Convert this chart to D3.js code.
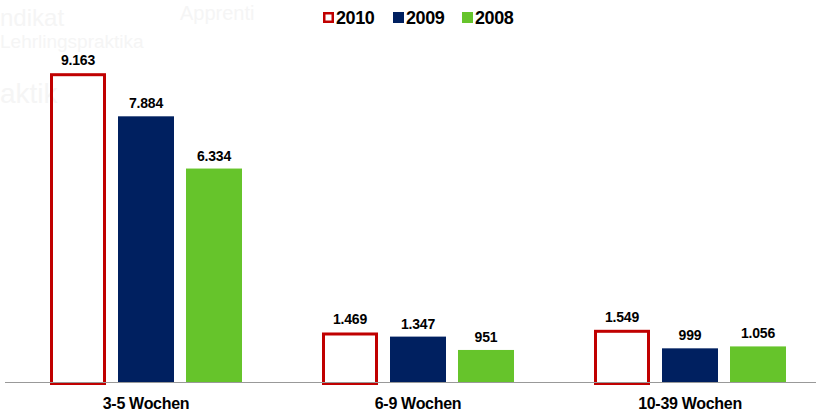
<!DOCTYPE html>
<html><head><meta charset="utf-8">
<script src="https://cdn.jsdelivr.net/npm/d3@7"></script>
<style>
html,body{margin:0;padding:0;background:#fff;}
svg{display:block;font-family:"Liberation Sans",Arial,sans-serif;}
</style></head>
<body><svg id="chart" width="816" height="416"></svg>
<script>
const categories = ["3-5 Wochen", "6-9 Wochen", "10-39 Wochen"];
const years = ["2010", "2009", "2008"];
const values2010 = [9163, 1469, 1549];
const values2009 = [7884, 1347, 999];
const values2008 = [6334, 951, 1056];
const valueLabels2010 = ["9.163", "1.469", "1.549"];
const valueLabels2009 = ["7.884", "1.347", "999"];
const valueLabels2008 = ["6.334", "951", "1.056"];
const watermark = [
  {t:"ndikat", x:0, y:26, s:24},
  {t:"Lehrlingspraktika", x:0, y:48, s:19},
  {t:"aktik", x:0, y:103, s:28},
  {t:"Apprenti", x:180, y:20, s:20}
];

const colors = {"2010":"#C00000","2009":"#002060","2008":"#66C42B"};
const series = {
  "2010": {v: values2010, l: valueLabels2010},
  "2009": {v: values2009, l: valueLabels2009},
  "2008": {v: values2008, l: valueLabels2008}
};

const svg = d3.select("#chart");

// faint background watermark
svg.append("g").selectAll("text").data(watermark).join("text")
  .attr("x", d=>d.x).attr("y", d=>d.y)
  .attr("font-size", d=>d.s)
  .attr("fill","#f5f5f5").text(d=>d.t);

const baseline = 382;
const x0 = d3.scaleBand().domain(categories).range([10, 826]);
const x1 = d3.scaleBand().domain(years).range([x0.bandwidth()/2 - 96, x0.bandwidth()/2 + 96]).paddingInner(0.1765);
const y = d3.scaleLinear().domain([0, 10000]).range([baseline, 45]);

// axis
const xAxis = d3.axisBottom(x0).tickSize(0).tickPadding(0);
const ax = svg.append("g").attr("transform", `translate(0,${baseline})`).call(xAxis);
ax.select(".domain").remove();
ax.selectAll("text")
  .attr("dy", 0).attr("y", 27)
  .attr("font-size", 16).attr("font-weight", "bold")
  .attr("font-family", '"Liberation Sans",Arial,sans-serif')
  .attr("letter-spacing", "-0.3px")
  .attr("fill", "#000");

const groups = svg.append("g").selectAll("g").data(categories).join("g")
  .attr("transform", d => `translate(${x0(d)},0)`);

years.forEach(yr => {
  const data = categories.map((c,i)=>({c, v: series[yr].v[i], l: series[yr].l[i]}));
  const hollow = yr === "2010";
  groups.data(data).each(function(d){
    const g = d3.select(this);
    const bx = x1(yr), bw = x1.bandwidth();
    const top = y(d.v);
    if (hollow) {
      g.append("rect").attr("x", bx+1.5).attr("y", top+1.5)
        .attr("width", bw-3).attr("height", baseline - top)
        .attr("fill","none").attr("stroke", colors[yr]).attr("stroke-width", 3);
    } else {
      g.append("rect").attr("x", bx).attr("y", top)
        .attr("width", bw).attr("height", baseline - top)
        .attr("fill", colors[yr]);
    }
    g.append("text").attr("x", bx + bw/2).attr("y", top - 8)
      .attr("text-anchor","middle").attr("font-size", 14).attr("font-weight","bold")
      .attr("letter-spacing","-0.2px").attr("fill","#000").text(d.l);
  });
});

// baseline line
svg.append("line").attr("x1", 5).attr("x2", 816).attr("y1", baseline+0.5).attr("y2", baseline+0.5)
  .attr("stroke", "#999").attr("stroke-width", 1);

// legend
const legX = [323, 393, 462];
const leg = svg.append("g").selectAll("g").data(years).join("g")
  .attr("transform", (d,i)=>`translate(${legX[i]},12)`);
leg.append("rect")
  .attr("x", d => d==="2010" ? 1.25 : 0).attr("y", d => d==="2010" ? 1.25 : 0)
  .attr("width", d => d==="2010" ? 8.5 : 11).attr("height", d => d==="2010" ? 8.5 : 11)
  .attr("fill", d => d==="2010" ? "#fff" : colors[d])
  .attr("stroke", d => d==="2010" ? colors[d] : "none")
  .attr("stroke-width", 2.5);
leg.append("text").attr("x", 13).attr("y", 12)
  .attr("font-size", 18).attr("font-weight","bold").attr("letter-spacing","-0.4px")
  .attr("fill","#000").text(d=>d);
</script></body></html>
